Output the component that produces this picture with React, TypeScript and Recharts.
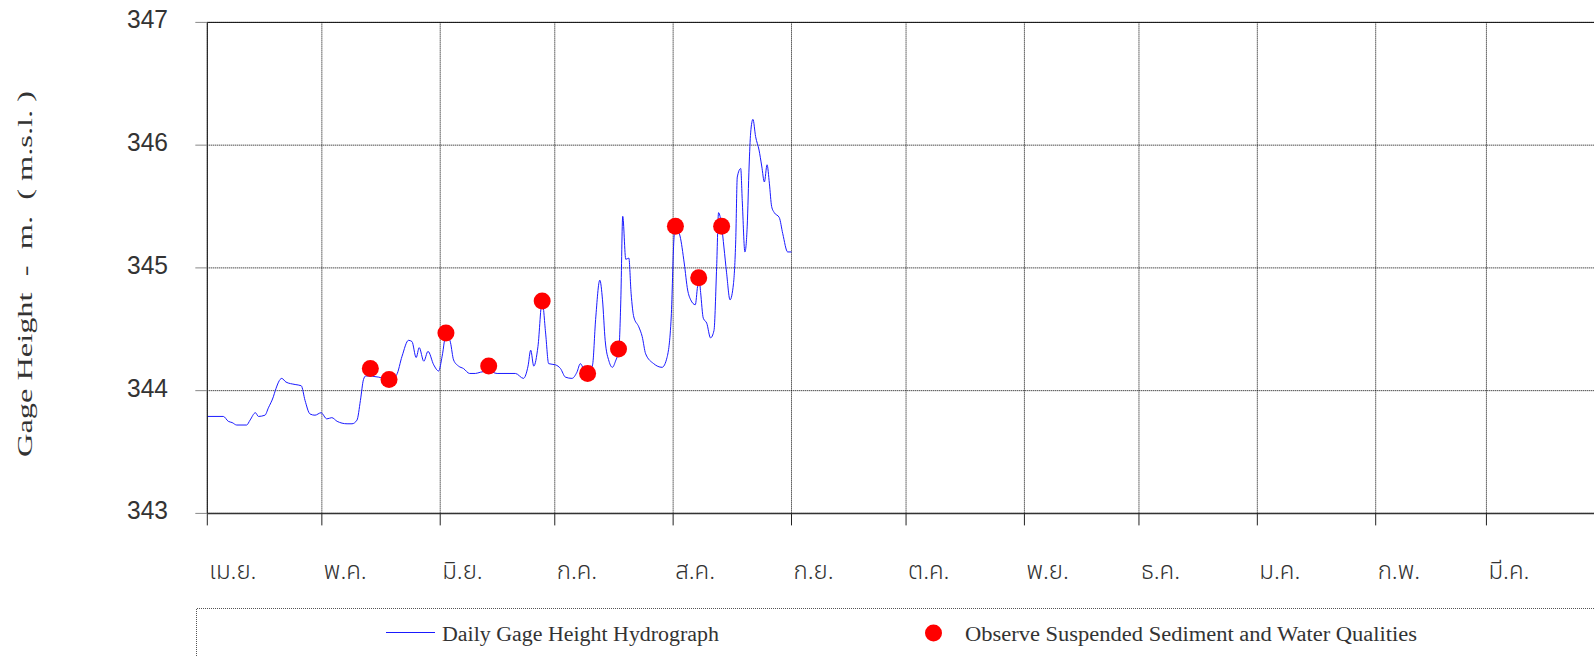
import { ComposedChart, Line, Scatter, XAxis, YAxis, CartesianGrid, ReferenceLine } from 'recharts'

const sampleDays = [
  0, 4.2, 5.5, 6.5, 7.7, 10.3, 11.2, 12.6, 13.4, 15.1, 16.0, 17.3, 17.8, 19.5, 20.6, 23.0, 24.6, 25.6, 26.9, 28.2,
  29.8, 31.3, 32.6, 34.0, 36.6, 37.9, 39.2, 40.1, 40.9, 41.5, 44.9, 46.1, 47.6, 48.4, 49.6, 51.0, 52.7, 53.6, 54.7, 55.5,
  56.7, 57.8, 59.3, 60.6, 61.5, 62.6, 63.7, 64.5, 65.8, 67.1, 68.7, 70.2, 71.5, 73.7, 75.9, 80.7, 82.8, 84.0, 84.7, 85.5,
  86.6, 87.7, 88.6, 89.4, 91.2, 92.5, 93.8, 95.5, 96.8, 97.7, 98.5, 99.6, 100.9, 101.7, 102.8, 103.5, 104.2, 105.2, 106.1, 106.9,
  107.8, 108.3, 108.8, 109.6, 110.4, 111.0, 111.7, 113.0, 113.9, 114.8, 116.9, 119.1, 120.4, 121.5, 122.2, 122.5, 123.8, 124.9, 125.8, 126.6,
  127.8, 128.4, 128.8, 129.2, 129.9, 130.8, 131.8, 132.7, 133.4, 133.9, 134.7, 135.3, 136.0, 136.9, 137.8, 138.4, 138.8, 139.7, 140.1, 140.8,
  141.4, 141.9, 142.3, 142.9, 143.6, 144.5, 145.2, 145.9, 146.6, 147.2, 147.8, 148.5, 149.8, 150.7, 152.0, 153.0,
]
const gageHeight = [
  343.79, 343.79, 343.75, 343.74, 343.72, 343.72, 343.76, 343.82, 343.79, 343.80, 343.86, 343.95, 344.0, 344.10, 344.07, 344.05, 344.04, 343.92, 343.81, 343.80,
  343.82, 343.77, 343.78, 343.75, 343.73, 343.73, 343.76, 343.92, 344.09, 344.12, 344.11, 344.10, 344.09, 344.10, 344.13, 344.28, 344.41, 344.40, 344.27, 344.35,
  344.24, 344.32, 344.21, 344.16, 344.28, 344.47, 344.39, 344.25, 344.20, 344.18, 344.14, 344.14, 344.15, 344.16, 344.14, 344.14, 344.10, 344.20, 344.33, 344.20,
  344.36, 344.73, 344.47, 344.22, 344.21, 344.18, 344.11, 344.10, 344.15, 344.22, 344.18, 344.13, 344.21, 344.58, 344.90, 344.74, 344.41, 344.24, 344.19, 344.24,
  344.34, 344.74, 345.42, 345.07, 345.08, 344.79, 344.60, 344.52, 344.44, 344.30, 344.22, 344.19, 344.27, 344.60, 345.23, 345.34, 345.26, 345.04, 344.82, 344.74,
  344.70, 344.85, 344.92, 344.80, 344.59, 344.55, 344.43, 344.49, 345.01, 345.45, 345.34, 345.17, 344.96, 344.74, 344.87, 345.23, 345.74, 345.81, 345.55, 345.13,
  345.34, 345.83, 346.10, 346.21, 346.07, 345.96, 345.83, 345.70, 345.84, 345.69, 345.50, 345.45, 345.41, 345.28, 345.13, 345.13,
]

const obsDays = [42.7, 47.6, 62.5, 73.7, 87.7, 99.6, 107.7, 122.6, 128.7, 134.7]
const obsHeight = [344.18, 344.09, 344.47, 344.20, 344.73, 344.14, 344.34, 345.34, 344.92, 345.34]

const monthTicks = [0, 30, 61, 91, 122, 153, 183, 214, 244, 275, 306, 335]
const monthLabels = ['เม.ย.', 'พ.ค.', 'มิ.ย.', 'ก.ค.', 'ส.ค.', 'ก.ย.', 'ต.ค.', 'พ.ย.', 'ธ.ค.', 'ม.ค.', 'ก.พ.', 'มี.ค.']
const heightTicks = [343, 344, 345, 346, 347]

const lineData = sampleDays.map((day, i) => ({ day, h: gageHeight[i] }))
const obsData = obsDays.map((day, i) => ({ day, h: obsHeight[i] }))

const BLUE = '#1a1aff'
const SERIF = '"Liberation Serif", "DejaVu Serif", serif'

function MonthTick(props: any) {
  const { x, y, payload } = props
  const i = monthTicks.indexOf(payload.value)
  return (
    <text x={x + 2} y={y + 45} textAnchor="start" dominantBaseline="central"
      fontFamily='"Noto Sans Thai", "Noto Sans", sans-serif' fontSize={24} fontWeight={300} fill="#333">
      {monthLabels[i]}
    </text>
  )
}

function HeightTick(props: any) {
  const { y, payload } = props
  return (
    <text x={168} y={y - 3} textAnchor="end" dominantBaseline="central"
      fontFamily='"Liberation Sans", Arimo, sans-serif' fontSize={26} fill="#333"
      textLength={41} lengthAdjust="spacingAndGlyphs">
      {payload.value}
    </text>
  )
}

function AxisTitle() {
  return (
    <text x={25} y={274} transform="rotate(-90 25 274)" textAnchor="middle" dominantBaseline="central"
      fontFamily={SERIF} fontSize={21} fill="#333" style={{ whiteSpace: 'pre' }}
      textLength={366} lengthAdjust="spacingAndGlyphs">
      {'Gage Height  -  m.  ( m.s.l. )'}
    </text>
  )
}

export default function App() {
  return (
    <div style={{ position: 'absolute', left: 0, top: 0, width: 1594, height: 656, overflow: 'hidden', background: '#fff' }}>
      <ComposedChart width={1640} height={656} data={lineData}
        margin={{ top: 22.4, right: 35.2, left: 147.3, bottom: 102.6 }}>
        <CartesianGrid stroke="#000" strokeDasharray="1 1" strokeWidth={1} />
        <XAxis dataKey="day" type="number" domain={[0, 366]} ticks={monthTicks} interval={0}
          height={40} tickSize={12} tick={<MonthTick />}
          axisLine={{ stroke: '#333', strokeWidth: 1.5 }} tickLine={{ stroke: '#222' }} />
        <YAxis type="number" domain={[343, 347]} ticks={heightTicks} interval={0} width={60}
          tickSize={12} tick={<HeightTick />} axisLine={{ stroke: '#111' }} tickLine={{ stroke: '#888' }}
          label={{ content: () => <AxisTitle /> }} />
        <ReferenceLine y={347} stroke="#111" />
        <Line type="monotoneX" dataKey="h" stroke={BLUE} strokeWidth={1} dot={false} isAnimationActive={false} />
        <Scatter data={obsData} dataKey="h" fill="#ff0000" isAnimationActive={false}
          shape={(p: any) => <circle cx={p.cx} cy={p.cy} r={8.5} fill="#ff0000" />} />
      </ComposedChart>
      <svg width={1594} height={656} style={{ position: 'absolute', left: 0, top: 0, pointerEvents: 'none' }}>
        <path d="M196.5 700 V608.5 H1600" fill="none" stroke="#555" strokeDasharray="1 1" />
        <line x1={386} y1={632.5} x2={435} y2={632.5} stroke={BLUE} strokeWidth={1.2} />
        <text x={442} y={641} fontFamily={SERIF} fontSize={20} fill="#333" textLength={277} lengthAdjust="spacingAndGlyphs">
          Daily Gage Height Hydrograph
        </text>
        <circle cx={933.5} cy={633} r={8.5} fill="#ff0000" />
        <text x={965} y={641} fontFamily={SERIF} fontSize={20} fill="#333" textLength={452} lengthAdjust="spacingAndGlyphs">
          Observe Suspended Sediment and Water Qualities
        </text>
      </svg>
    </div>
  )
}
